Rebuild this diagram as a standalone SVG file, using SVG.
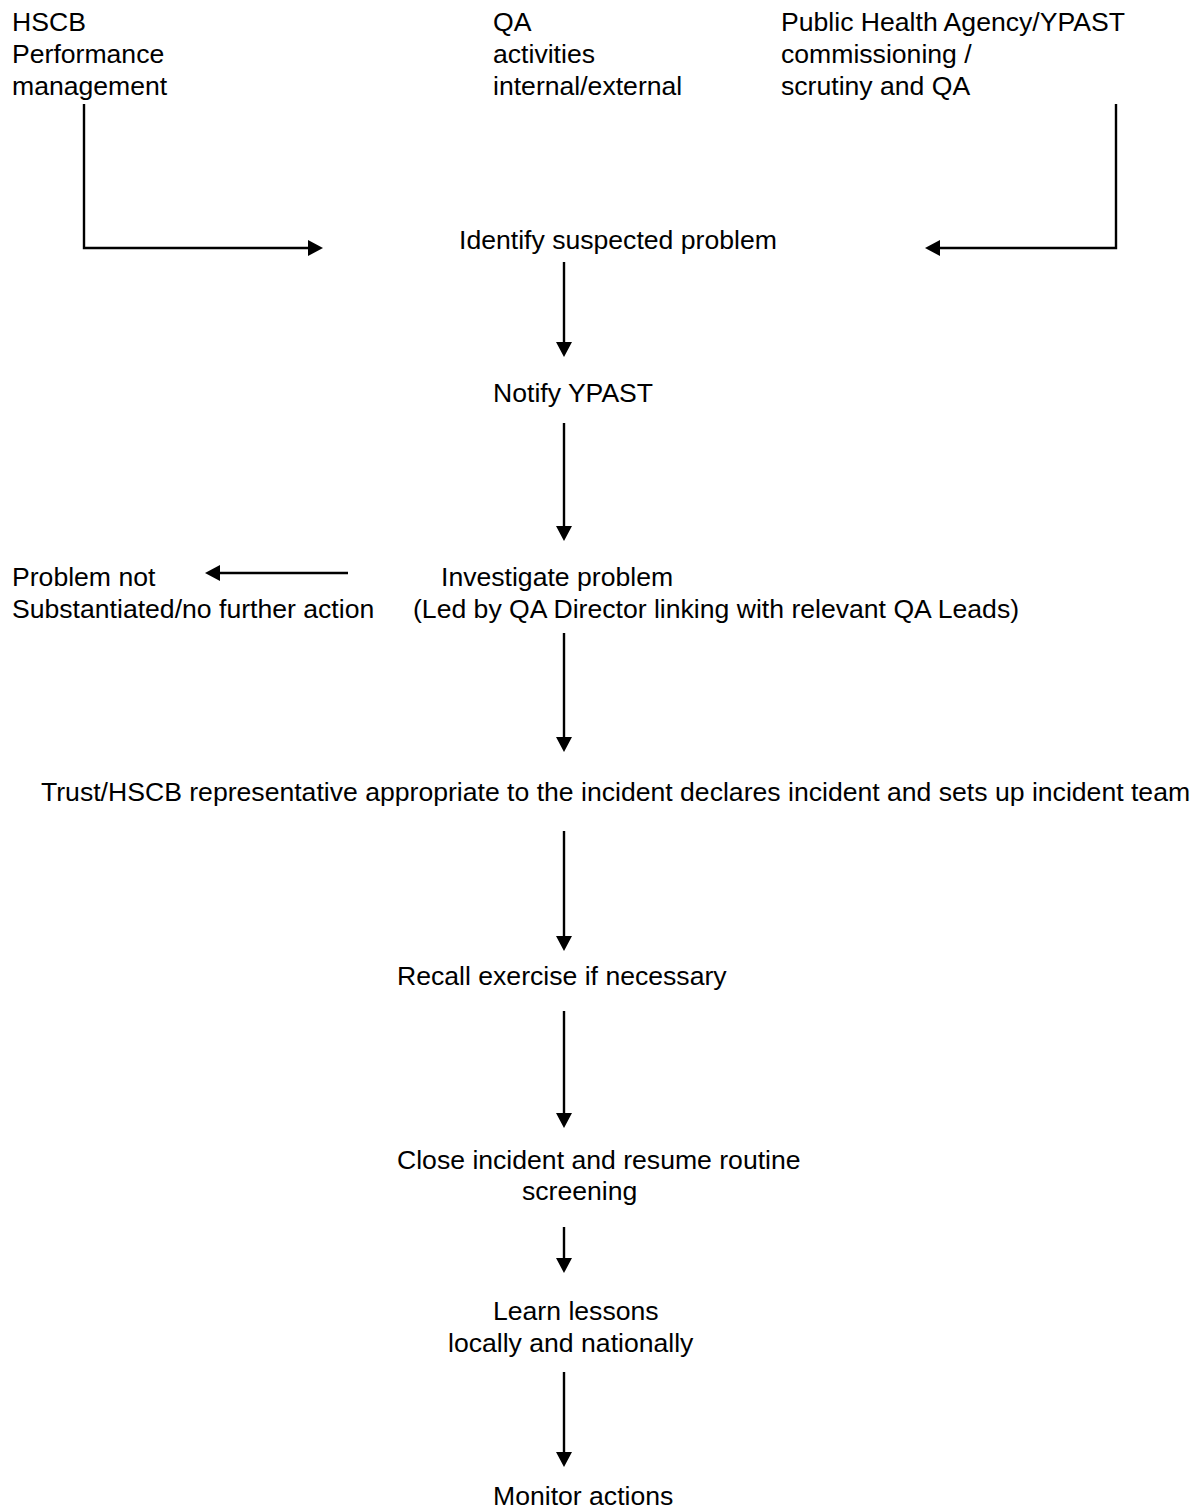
<svg xmlns="http://www.w3.org/2000/svg" width="1202" height="1508" viewBox="0 0 1202 1508">
<style>
text{font-family:"Liberation Sans",Arial,sans-serif;font-size:26.6px;fill:#000}
.c{fill:none;stroke:#000;stroke-width:2.4}
</style>
<defs>
<marker id="ah" markerUnits="userSpaceOnUse" markerWidth="17" markerHeight="17" refX="0" refY="8" orient="auto">
<path d="M0,0 L15,8 L0,16 Z" fill="#000"/>
</marker>
</defs>
<rect width="1202" height="1508" fill="#fff"/>
<g id="hscb"><text x="12" y="31">HSCB</text><text x="12" y="63">Performance</text><text x="12" y="95">management</text></g>
<g id="qa"><text x="493" y="31">QA</text><text x="493" y="63">activities</text><text x="493" y="95">internal/external</text></g>
<g id="pha"><text x="781" y="31">Public Health Agency/YPAST</text><text x="781" y="63">commissioning /</text><text x="781" y="95">scrutiny and QA</text></g>
<g id="identify"><text x="459" y="249">Identify suspected problem</text></g>
<g id="notify"><text x="493" y="402">Notify YPAST</text></g>
<g id="notsub"><text x="12" y="586">Problem not</text><text x="12" y="618">Substantiated/no further action</text></g>
<g id="investigate"><text x="441" y="586">Investigate problem</text><text x="413" y="618">(Led by QA Director linking with relevant QA Leads)</text></g>
<g id="trust"><text x="41" y="801">Trust/HSCB representative appropriate to the incident declares incident and sets up incident team</text></g>
<g id="recall"><text x="397" y="985">Recall exercise if necessary</text></g>
<g id="close"><text x="397" y="1169">Close incident and resume routine</text><text x="522" y="1200">screening</text></g>
<g id="learn"><text x="493" y="1320">Learn lessons</text><text x="448" y="1352">locally and nationally</text></g>
<g id="monitor"><text x="493" y="1505">Monitor actions</text></g>
<g id="connectors">
<path class="c" d="M84,104 V248 H308" marker-end="url(#ah)"/>
<path class="c" d="M1116,104 V248 H940" marker-end="url(#ah)"/>
<path class="c" d="M564,262 V342" marker-end="url(#ah)"/>
<path class="c" d="M564,423 V526" marker-end="url(#ah)"/>
<path class="c" d="M348,573 H220" marker-end="url(#ah)"/>
<path class="c" d="M564,633 V737" marker-end="url(#ah)"/>
<path class="c" d="M564,831 V936" marker-end="url(#ah)"/>
<path class="c" d="M564,1011 V1113" marker-end="url(#ah)"/>
<path class="c" d="M564,1227 V1258" marker-end="url(#ah)"/>
<path class="c" d="M564,1372 V1452" marker-end="url(#ah)"/>
</g>
</svg>
